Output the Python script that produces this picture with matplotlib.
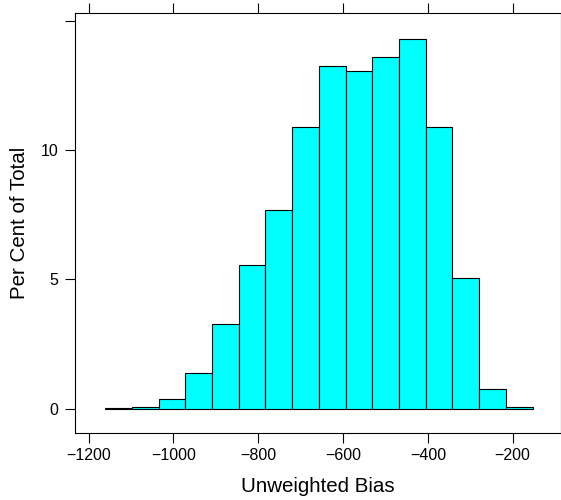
import numpy as np
import matplotlib.pyplot as plt

plt.rcParams['font.family'] = ['Liberation Sans', 'DejaVu Sans']

# histogram of the unweighted bias, percent of total per bin
bin_edges = [-1161, -1098, -1035, -972, -909, -846, -783, -720, -657,
             -594, -531, -468, -405, -342, -279, -216, -153]
percent = [0.03, 0.08, 0.38, 1.37, 3.29, 5.57, 7.68, 10.88, 13.25,
           13.06, 13.58, 14.27, 10.9, 5.07, 0.75, 0.07]

x_ticks = [-1200, -1000, -800, -600, -400, -200]
y_ticks = [0, 5, 10, 15]
y_labels = ['0', '5', '10', '']

fig = plt.figure(figsize=(5.61, 5.0), dpi=100)
ax = fig.add_axes([75 / 561, 67 / 500, 486 / 561, 420 / 500])

edges = np.array(bin_edges)
ax.bar(edges[:-1], percent, width=np.diff(edges), align='edge',
       color='#00ffff', edgecolor='black', linewidth=0.8)

ax.set_xlim(-1232, -86)
ax.set_ylim(-0.93, 15.29)

ax.set_xticks(x_ticks)
ax.set_xticklabels([f'\u2212{abs(v)}' for v in x_ticks])
ax.set_yticks(y_ticks)
ax.set_yticklabels(y_labels)
ax.tick_params(axis='both', direction='out', length=7, width=0.8,
               labelsize=11.5, colors='black')
ax.tick_params(axis='x', top=True, labeltop=False, pad=4)
ax.tick_params(axis='y', right=False, pad=5)
for s in ax.spines.values():
    s.set_linewidth(0.8)

ax.set_xlabel('Unweighted Bias', fontsize=14.8, labelpad=10)
ax.set_ylabel('Per Cent of Total', fontsize=14.8, labelpad=8)

fig.savefig('out.png', dpi=100)
